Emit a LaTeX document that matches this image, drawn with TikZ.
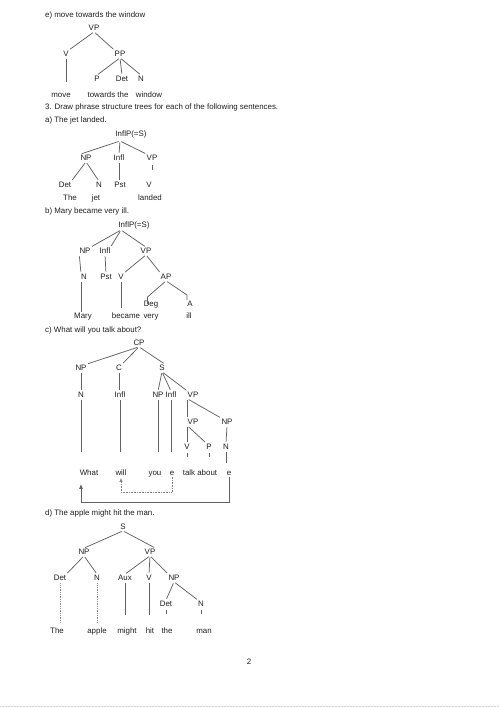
\documentclass[tikz,border=0pt]{standalone}
\usepackage{fontspec}
\setmainfont{Liberation Sans}
\usetikzlibrary{arrows.meta}
\newcommand\lab{\fontsize{7.9}{9.5}\selectfont}
\tikzset{
  tnode/.style={inner sep=0pt, text height=5.7pt, text depth=1.6pt, font=\lab, text=black!88},
  branch/.style={draw=black!62, line width=0.75pt, shorten <=1.5pt, shorten >=1.5pt},
  faint/.style={branch, draw=black!45, densely dotted},
  trace/.style={draw=black!50, line width=0.6pt, densely dotted, -{Latex[length=4pt,width=3.4pt]}},
  moveline/.style={draw=black!62, line width=0.9pt, -{Latex[length=5pt,width=4pt]}}
}

\begin{document}
\begin{tikzpicture}[x=1pt, y=-1pt, every node/.style={tnode}]
\useasboundingbox (0,0) rectangle (500,707);

% e) move towards the window
\node[anchor=west] (te) at (45,15) {e) move towards the window};
\node (eVP) at (94,28) {VP};
\node (eV) at (66,54) {V};
\node (ePP) at (120,54) {PP};
\node (eP) at (97,79) {P};
\node (eDet) at (122,79) {Det};
\node (eN) at (141,79) {N};
\node (emove) at (61,95) {move};
\node (etow) at (108,95) {towards the};
\node (ewin) at (149,95) {window};
\draw[branch] (eVP.south) -- (eV.north east);
\draw[branch] (eVP.south) -- (ePP.north west);
\draw[branch, shorten >=9pt] (eV.south) -- (eV |- emove.north);
\foreach \c in {eP,eDet,eN}
  \draw[branch] (ePP.south) -- (\c.north);

% question 3
\node[anchor=west] (q3) at (45,107) {3. Draw phrase structure trees for each of the following sentences.};

% a) The jet landed.
\node[anchor=west] (ta) at (45,120) {a) The jet landed.};
\node (aS) at (131,134) {InflP(=S)};
\node (aNP) at (86,158) {NP};
\node (aI) at (119,158) {Infl};
\node (aVP) at (152,158) {VP};
\node (aDet) at (65,185) {Det};
\node (aN) at (99,185) {N};
\node (aPst) at (120,185) {Pst};
\node (aV) at (149,185) {V};
\node (aThe) at (70,198) {The};
\node (ajet) at (96,198) {jet};
\node (alanded) at (150,198) {landed};
\coordinate (aSj) at (120,141);
\draw[branch] (aSj) -- (aNP.north west);
\draw[branch] (aSj) -- (aI.north);
\draw[branch] (aSj) -- (aVP.north west);
\draw[branch] (aNP.south) -- (aDet.north east);
\draw[branch] (aNP.south) -- (aN.north);
\draw[branch] (aI.south) -- (aI |- aPst.north);
\draw[branch, shorten <=3pt, shorten >=11pt] (aVP.south) -- (aVP.south |- aV.north);

% b) Mary became very ill.
\node[anchor=west] (tb) at (45,211) {b) Mary became very ill.};
\node (bS) at (134,225) {InflP(=S)};
\node (bNP) at (85,251) {NP};
\node (bI) at (105,251) {Infl};
\node (bVP) at (146,251) {VP};
\node (bN) at (84,277) {N};
\node (bPst) at (106,277) {Pst};
\node (bV) at (121,277) {V};
\node (bAP) at (166,277) {AP};
\node (bDeg) at (151,304) {Deg};
\node (bA) at (190,304) {A};
\node (bMary) at (83,316) {Mary};
\node (bbecame) at (126,316) {became};
\node (bvery) at (151,316) {very};
\node (bill) at (189,316) {ill};
\coordinate (bSj) at (121,230);
\coordinate (bDegk) at (147.5,297);
\coordinate (bAk) at (187,295);
\draw[branch] (bSj) -- (bNP.north east);
\draw[branch] (bSj) -- (bI.north east);
\draw[branch] (bSj) -- (bVP.north);
\draw[branch] (bNP.south west) -- (bN.north west);
\draw[branch] (bI.south) -- (bPst.north);
\draw[branch] (bVP.south) -- (bV.north east);
\draw[branch] (bVP.south) -- (bAP.north west);
\draw[branch, shorten >=0pt] (bN.south west) -- (bN.south west |- bMary.north);
\draw[branch, shorten >=4pt] (bV.south) -- (bV |- bbecame.north);
\draw[branch, shorten >=0pt] (bAP.south) -- (bDegk) -- (bDegk |- bDeg.center);
\draw[branch, shorten >=0pt] (bAP.south) -- (bAk) -- (bAk |- bA.north);

% c) What will you talk about?
\node[anchor=west] (tc) at (45,330) {c) What will you talk about?};
\node (cCP) at (139,343) {CP};
\node (cNP) at (81,368) {NP};
\node (cC) at (119,368) {C};
\node (cS) at (162,368) {S};
\node (cN) at (81,395) {N};
\node (cI) at (120,395) {Infl};
\node (cNP2) at (158,395) {NP};
\node (cI2) at (171,395) {Infl};
\node (cVP) at (193,395) {VP};
\node (cVP2) at (193,422) {VP};
\node (cNP3) at (227,422) {NP};
\node (cV) at (187,447) {V};
\node (cP) at (209,447) {P};
\node (cN2) at (226,447) {N};
\node (cWhat) at (89,473) {What};
\node (cwill) at (121,473) {will};
\node (cyou) at (155,473) {you};
\node (ce) at (172,473) {e};
\node (ctalk) at (200,473) {talk about};
\node (ce2) at (229,473) {e};
\coordinate (cdot) at (0,492);
\coordinate (cbar) at (0,502);
\draw[branch] (cCP.south) -- (cNP.north east);
\draw[branch] (cCP.south) -- (cC.north east);
\draw[branch] (cCP.south) -- (cS.north east);
\draw[branch] (cNP.south) -- (cN.north);
\draw[branch] (cC.south) -- (cC |- cI.north);
\draw[branch] (cS.south) -- (cNP2.north);
\draw[branch] (cS.south) -- (cI2.north);
\draw[branch] (cS.south) -- (cVP.north west);
\draw[branch, shorten >=-1pt] (cN.south) -- (cN |- cV.south);
\draw[branch, shorten >=-1pt] (cI.south) -- (cI |- cV.south);
\draw[branch, shorten >=-1pt] (cNP2.south) -- (cNP2 |- cV.south);
\draw[branch, shorten >=-1pt] (cI2.south) -- (cI2 |- cV.south);
\draw[branch] (cVP.south west) -- (cVP.south west |- cVP2.north);
\draw[branch] (cVP.south west) -- (cNP3.north west);
\draw[branch] (cVP2.south west) -- (cVP2.south west |- cV.north);
\draw[branch] (cVP2.south west) -- (cP.north west);
\draw[branch] (cNP3.south) -- (cN2.north);
\draw[branch, shorten <=2pt, shorten >=12pt] (cV.south) -- (cV |- ctalk.north);
\draw[branch, shorten <=2pt, shorten >=12pt] (cP.south) -- (cP |- ctalk.north);
\draw[branch, shorten >=6pt] (cN2.south) -- (cN2 |- ctalk.north);
\draw[trace, shorten >=1pt] (ce.south) -- (ce.south |- cdot) -| (cwill.south);
\draw[moveline, shorten >=7pt] (ce2.south) -- (ce2.south |- cbar) -| (cN |- cWhat.south);

% d) The apple might hit the man.
\node[anchor=west] (td) at (45,513) {d) The apple might hit the man.};
\node (dS) at (123,527) {S};
\node (dNP) at (84,552) {NP};
\node (dVP) at (150,552) {VP};
\node (dDet) at (60,578) {Det};
\node (dN) at (97,578) {N};
\node (dAux) at (125,578) {Aux};
\node (dV) at (149,578) {V};
\node (dNP2) at (174,578) {NP};
\node (dDet2) at (166,604) {Det};
\node (dN2) at (201,604) {N};
\node (dThe) at (57,631) {The};
\node (dapple) at (97,631) {apple};
\node (dmight) at (127,631) {might};
\node (dhit) at (150,631) {hit};
\node (dthe) at (167,631) {the};
\node (dman) at (204,631) {man};
\draw[branch] (dS.south) -- (dNP.north);
\draw[branch] (dS.south) -- (dVP.north east);
\draw[branch] (dNP.south) -- (dDet.north east);
\draw[branch] (dNP.south) -- (dN.north);
\draw[branch] (dVP.south) -- (dAux.north);
\draw[branch] (dVP.south) -- (dV.north);
\draw[branch] (dVP.south) -- (dNP2.north west);
\draw[faint, shorten >=5pt] (dDet.south) -- (dDet |- dThe.north);
\draw[faint, shorten >=5pt] (dN.south) -- (dN |- dapple.north);
\draw[branch, shorten >=12pt] (dAux.south) -- (dAux |- dmight.north);
\draw[branch, shorten >=12pt] (dV.south) -- (dV |- dhit.north);
\draw[branch] (dNP2.south) -- (dDet2.north);
\draw[branch] (dNP2.south) -- (dN2.north west);
\draw[branch, shorten <=2pt, shorten >=13pt] (dDet2.south) -- (dDet2 |- dthe.north);
\draw[branch, shorten <=2pt, shorten >=13pt] (dN2.south) -- (dN2 |- dman.north);

% page number
\node (pg) at (249,662) {2};
\draw[black!18, densely dotted, line width=0.5pt] (0,706) -- (500,706);
\end{tikzpicture}
\end{document}
